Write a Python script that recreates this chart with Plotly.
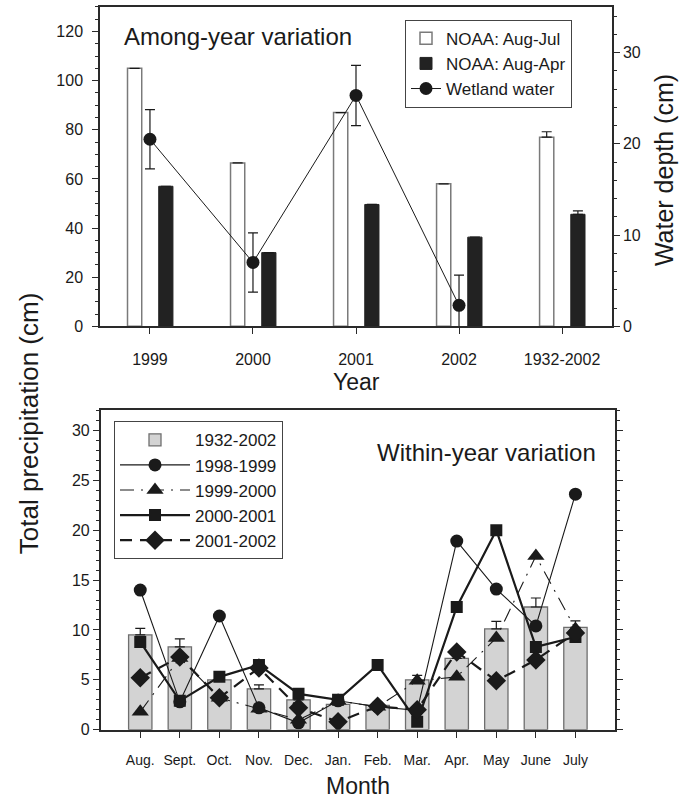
import plotly.graph_objects as go

# ---------------- data ----------------
years = ["1999", "2000", "2001", "2002", "1932-2002"]
noaa_aug_jul = [105, 66.5, 87, 58, 77]
noaa_aug_jul_err = [None, None, None, None, 2.2]
noaa_aug_apr = [57, 30, 49.6, 36.3, 45.6]
noaa_aug_apr_err = [None, None, None, None, 1.4]
water_years = ["1999", "2000", "2001", "2002"]
wetland_water = [20.5, 7.0, 25.3, 2.3]
wetland_water_err = [3.25, 3.25, 3.3, 3.3]

months = ["Aug.", "Sept.", "Oct.", "Nov.", "Dec.", "Jan.", "Feb.", "Mar.", "Apr.", "May", "June", "July"]
p_1932_2002 = [9.5, 8.3, 5.0, 4.1, 3.0, 2.55, 2.45, 5.0, 7.15, 10.1, 12.3, 10.25]
p_1932_2002_err = [0.65, 0.8, 0.3, 0.4, 0.3, 0.3, 0.3, 0.45, 0.3, 0.75, 0.9, 0.65]
p_1998_1999 = [14.0, 2.8, 11.4, 2.2, 0.7, 2.9, 2.3, 1.95, 18.9, 14.1, 10.4, 23.6]
p_1999_2000 = [1.8, 7.2, 3.2, 2.1, 1.0, 2.9, 2.3, 4.9, 5.3, 9.2, 17.4, 10.1]
p_2000_2001 = [8.8, 2.9, 5.3, 6.5, 3.6, 3.0, 6.5, 0.8, 12.3, 20.0, 8.3, 9.3]
p_2001_2002 = [5.2, 7.3, 3.2, 6.2, 2.2, 0.8, 2.35, 2.0, 7.8, 4.9, 7.0, 9.7]

W, H = 686, 807
FONT = "Liberation Sans, Arial, sans-serif"
INK = "#1a1a1a"


def px(x):
    return x / W


def py(y):
    return 1 - y / H


fig = go.Figure()

# ---------------- top panel ----------------
fig.add_trace(go.Bar(
    x=years, y=noaa_aug_jul, name="NOAA: Aug-Jul",
    offset=-0.218, width=0.138,
    marker=dict(color="white", line=dict(color="#7a7a7a", width=1.5)),
    error_y=dict(type="data", array=noaa_aug_jul_err, arrayminus=[0] * 5, symmetric=False,
                 color=INK, thickness=1.2, width=5),
    xaxis="x", yaxis="y", legend="legend",
))
fig.add_trace(go.Bar(
    x=years, y=noaa_aug_apr, name="NOAA: Aug-Apr",
    offset=0.085, width=0.138,
    marker=dict(color="#222222", line=dict(color="#222222", width=1)),
    error_y=dict(type="data", array=noaa_aug_apr_err, arrayminus=[0] * 5, symmetric=False,
                 color=INK, thickness=1.2, width=5),
    xaxis="x", yaxis="y", legend="legend",
))
fig.add_trace(go.Scatter(
    x=water_years, y=wetland_water, name="Wetland water",
    mode="lines+markers",
    line=dict(color=INK, width=1),
    marker=dict(symbol="circle", size=13, color=INK),
    error_y=dict(type="data", array=wetland_water_err, color=INK, thickness=1.2, width=5),
    xaxis="x", yaxis="y2", legend="legend",
))

# ---------------- bottom panel ----------------
fig.add_trace(go.Bar(
    x=months, y=p_1932_2002, name="1932-2002", width=0.59,
    marker=dict(color="#d3d3d3", line=dict(color="#6e6e6e", width=1.3)),
    error_y=dict(type="data", array=p_1932_2002_err, arrayminus=[0] * 12, symmetric=False,
                 color=INK, thickness=1.2, width=5),
    xaxis="x3", yaxis="y3", legend="legend2",
))
series = [
    ("1998-1999", p_1998_1999, "circle", 13, 1.1, "solid"),
    ("1999-2000", p_1999_2000, "triangle-up", 15, 1.1, "14px,7px,2px,7px"),
    ("2000-2001", p_2000_2001, "square", 12, 2.2, "solid"),
    ("2001-2002", p_2001_2002, "diamond", 15, 2.2, "12px,8px"),
]
for name, vals, sym, size, lw, dash in series:
    fig.add_trace(go.Scatter(
        x=months, y=vals, name=name, mode="lines+markers",
        line=dict(color=INK, width=lw, dash=dash),
        marker=dict(symbol=sym, size=size, color=INK),
        xaxis="x3", yaxis="y3", legend="legend2",
    ))

axis_common = dict(
    showgrid=False, zeroline=False, showline=True, linecolor="#2a2a2a",
    ticks="outside", tickcolor="#2a2a2a", tickfont=dict(family=FONT, size=16, color=INK),
)

fig.update_layout(
    width=W, height=H,
    margin=dict(l=0, r=0, t=0, b=0),
    paper_bgcolor="white", plot_bgcolor="white",
    font=dict(family=FONT, color=INK),
    showlegend=True,
    barmode="overlay",
    xaxis=dict(
        **axis_common, domain=[px(100), px(612)], anchor="y",
        type="category", range=[-0.485, 4.485], mirror=True, linewidth=1.5,
        ticklen=6, ticklabelstandoff=12,
    ),
    yaxis=dict(
        **axis_common, domain=[py(330), py(7)], anchor="x",
        range=[0, 130], tickvals=[0, 20, 40, 60, 80, 100, 120], linewidth=1.5, ticklen=6,
        ticklabelstandoff=6,
        minor=dict(dtick=5, tick0=0, ticks="outside", ticklen=3, tickcolor="#2a2a2a"),
    ),
    yaxis2=dict(
        **axis_common, overlaying="y", side="right", anchor="x",
        range=[0, 35], tickvals=[0, 10, 20, 30], linewidth=1.5, ticklen=6,
        minor=dict(dtick=2, tick0=0, ticks="outside", ticklen=3, tickcolor="#2a2a2a"),
    ),
    xaxis3=dict(
        **{**axis_common, "tickfont": dict(family=FONT, size=14, color=INK)},
        domain=[px(100.7), px(615)], anchor="y3",
        type="category", range=[-1, 12], mirror=True, linewidth=2, ticklen=6,
        ticklabelstandoff=10,
    ),
    yaxis3=dict(
        **axis_common, domain=[py(738), py(415)], anchor="x3",
        range=[0, 32], tickvals=[0, 5, 10, 15, 20, 25, 30], mirror="ticks", linewidth=1.5,
        ticklen=6,
        minor=dict(dtick=1, tick0=0, ticks="outside", ticklen=3, tickcolor="#2a2a2a"),
    ),
    legend=dict(
        x=px(405), y=py(20), xanchor="left", yanchor="top",
        bgcolor="white", bordercolor="#444", borderwidth=1,
        font=dict(family=FONT, size=17, color=INK),
        tracegroupgap=0,
    ),
    legend2=dict(
        x=px(114), y=py(426), xanchor="left", yanchor="top",
        bgcolor="white", bordercolor="#444", borderwidth=1,
        font=dict(family=FONT, size=17, color=INK),
        tracegroupgap=0, itemwidth=70,
    ),
    annotations=[
        dict(text="Among-year variation", x=px(122), y=py(37), xref="paper", yref="paper",
             xanchor="left", yanchor="middle", showarrow=False,
             font=dict(family=FONT, size=24, color=INK)),
        dict(text="Within-year variation", x=px(598), y=py(458), xref="paper", yref="paper",
             xanchor="right", yanchor="middle", showarrow=False,
             font=dict(family=FONT, size=24, color=INK)),
        dict(text="Year", x=px(356), y=py(386), xref="paper", yref="paper",
             xanchor="center", yanchor="middle", showarrow=False,
             font=dict(family=FONT, size=23, color=INK)),
        dict(text="Month", x=px(358), y=py(795), xref="paper", yref="paper",
             xanchor="center", yanchor="middle", showarrow=False,
             font=dict(family=FONT, size=23, color=INK)),
        dict(text="Total precipitation (cm)", x=px(29), y=py(428), xref="paper", yref="paper",
             xanchor="center", yanchor="middle", showarrow=False, textangle=-90,
             font=dict(family=FONT, size=26, color=INK)),
        dict(text="Water depth (cm)", x=px(664), y=py(172), xref="paper", yref="paper",
             xanchor="center", yanchor="middle", showarrow=False, textangle=-90,
             font=dict(family=FONT, size=25, color=INK)),
    ],
)

fig.write_html("out.html")
